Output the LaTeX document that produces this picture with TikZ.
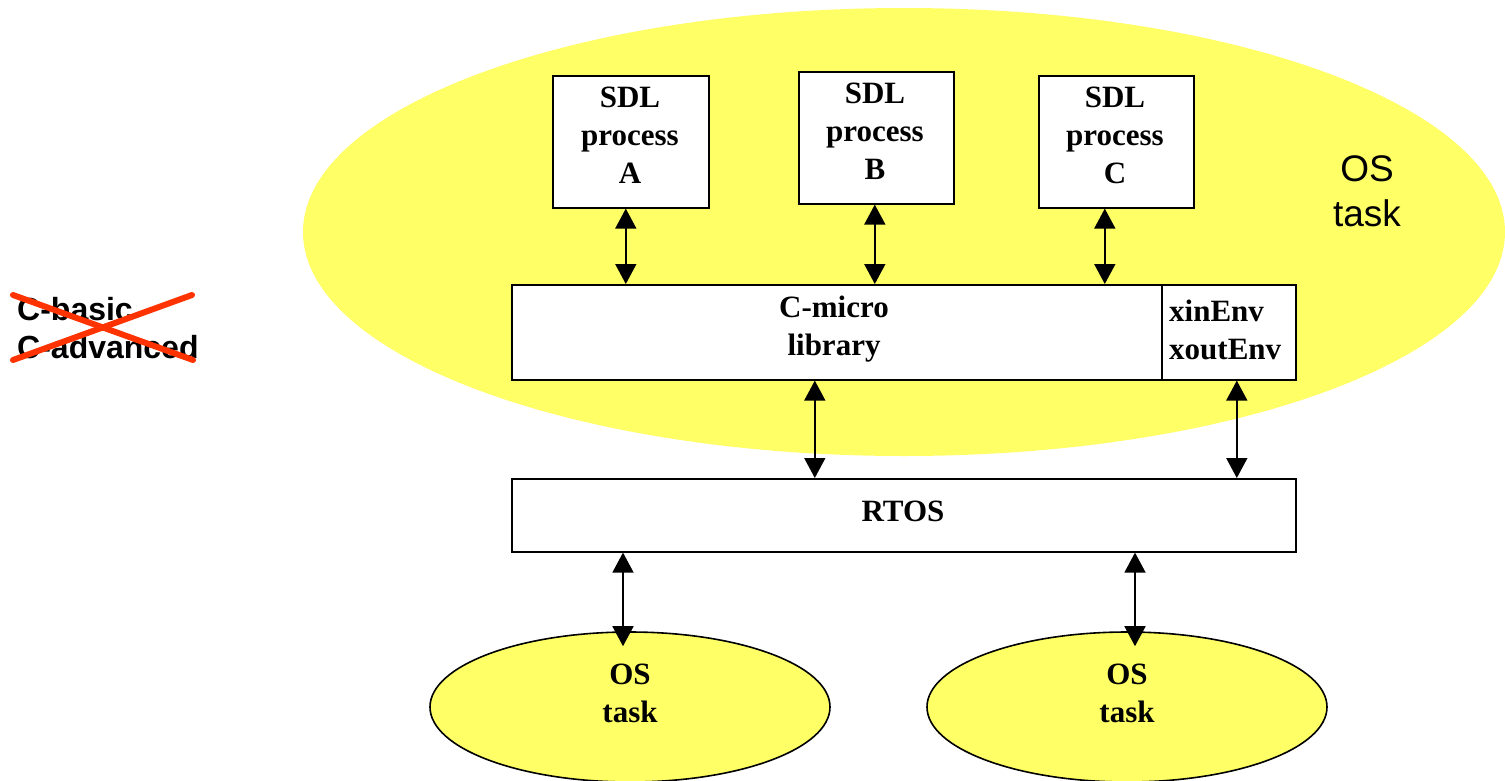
\documentclass[tikz,border=0pt]{standalone}
\usepackage{fontspec}
\setmainfont{Liberation Serif}
\newfontfamily\arialfont{Liberation Sans}
\usetikzlibrary{arrows.meta,shapes.geometric,calc}
\definecolor{taskyellow}{RGB}{255,255,102}
\definecolor{crossred}{RGB}{255,51,0}

\begin{document}
\begin{tikzpicture}[x=1pt,y=-1pt,
  box/.style={draw=black,line width=1.6pt,fill=white,rectangle,inner sep=0pt,anchor=north west},
  lbl/.style={font=\fontsize{31}{38}\selectfont\bfseries,align=center,inner sep=0pt},
  link/.style={line width=1.6pt,{Triangle[length=20pt,width=21pt]}-{Triangle[length=20pt,width=21pt]}},
  smalltask/.style={ellipse,draw=black,line width=1.6pt,fill=taskyellow,minimum width=400pt,minimum height=150pt,inner sep=0pt},
]
\useasboundingbox (0,0) rectangle (1505,780);

% the enclosing OS task
\node[ellipse,fill=taskyellow,minimum width=1202pt,minimum height=448pt,inner sep=0pt] (bigtask) at (904,232) {};
\node[font=\arialfont\fontsize{37}{45}\selectfont,align=center,inner sep=0pt] (bigtasktext) at (1367,191) {OS\\task};

% SDL processes
\node[box,minimum width=156pt,minimum height=132pt] (A) at (552,75) {};
\node[box,minimum width=155pt,minimum height=132pt] (B) at (798,71) {};
\node[box,minimum width=155pt,minimum height=132pt] (C) at (1038,75) {};
\node[lbl] (tA) at (630,135) {SDL\\process\\A};
\node[lbl] (tB) at (875,131) {SDL\\process\\B};
\node[lbl] (tC) at (1115,135) {SDL\\process\\C};

% library layer
\node[box,minimum width=650pt,minimum height=95pt] (lib) at (511,284) {};
\node[box,minimum width=134pt,minimum height=95pt] (env) at (1161,284) {};
\node[lbl,anchor=north] (tlib) at (834,296) {C-micro\\library};
\node[lbl,anchor=north west,align=left] (tenv) at (1169,300) {xinEnv\\xoutEnv};

% RTOS
\node[box,minimum width=784pt,minimum height=73pt] (rtos) at (511,478) {};
\node[lbl] (trtos) at (903,511) {RTOS};

% other OS tasks
\node[smalltask] (os1) at (630,707) {};
\node[smalltask] (os2) at (1127,707) {};
\node[lbl] (tos1) at (630,693) {OS\\task};
\node[lbl] (tos2) at (1127,693) {OS\\task};

% connectors
\coordinate (pA) at ($(A.south)+(-5,0)$);
\coordinate (pB) at ($(B.south)+(-1.5,0)$);
\coordinate (pC) at ($(C.south)+(-11.5,0)$);
\coordinate (pL) at ($(lib.south)+(-22,0)$);
\coordinate (pE) at ($(env.south)+(8,0)$);
\coordinate (p1) at ($(os1.north)+(-7,0)$);
\coordinate (p2) at ($(os2.north)+(8,0)$);
\draw[link] (pA) -- (pA |- lib.north);
\draw[link] (pB) -- (pB |- lib.north);
\draw[link] (pC) -- (pC |- lib.north);
\draw[link] (pL) -- (pL |- rtos.north);
\draw[link] (pE) -- (pE |- rtos.north);
\draw[link] (p1 |- rtos.south) -- ($(p1)+(0,15)$);
\draw[link] (p2 |- rtos.south) -- ($(p2)+(0,15)$);

% crossed-out variants
\node[font=\arialfont\bfseries\fontsize{32}{38}\selectfont,align=left,anchor=north west,inner sep=0pt] (variants) at (17,297) {C-basic\\C-advanced};
\draw[crossred,line width=6pt,line cap=round] (13,295) -- (193,360);
\draw[crossred,line width=6pt,line cap=round] (13,360) -- (192,295);
\end{tikzpicture}
\end{document}
